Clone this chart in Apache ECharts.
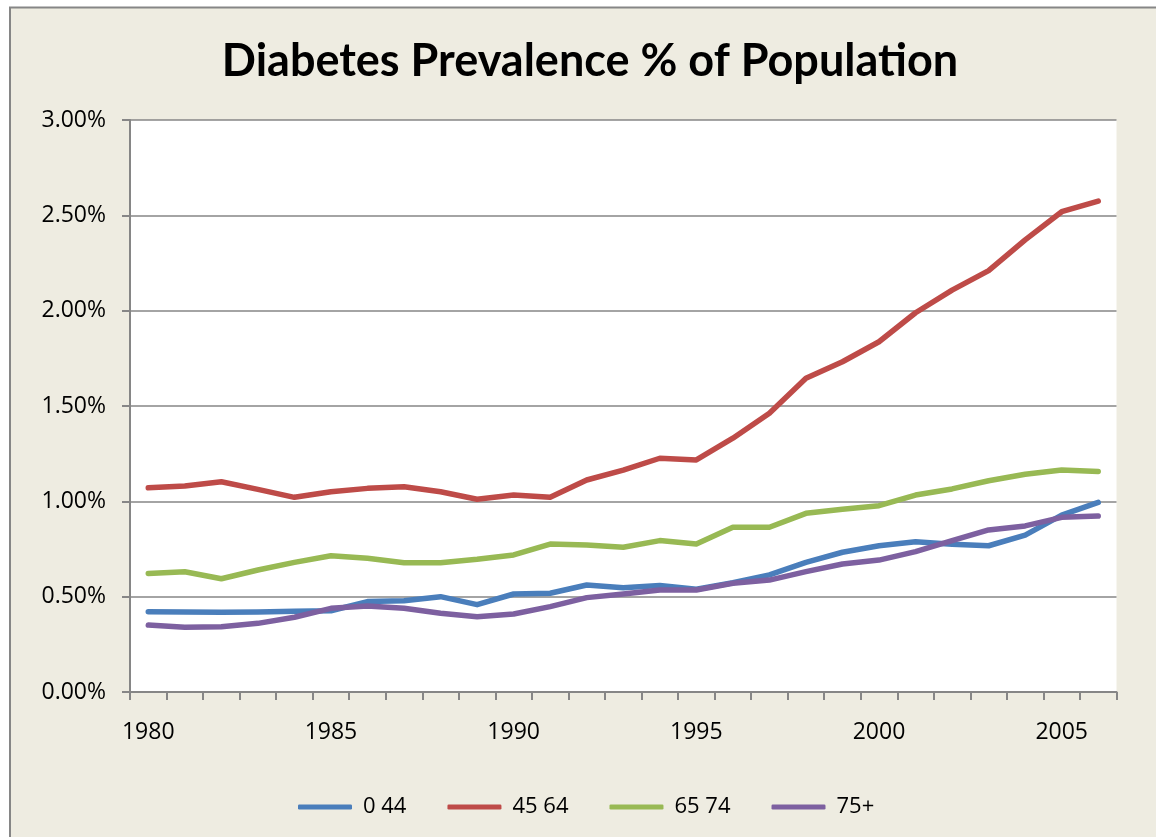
<!DOCTYPE html>
<html>
<head>
<meta charset="utf-8">
<script src="https://cdn.jsdelivr.net/npm/echarts@6/dist/echarts.min.js"></script>
<style>
html,body{margin:0;padding:0;background:#fff;}
#chart{width:1156px;height:837px;}
</style>
</head>
<body>
<div id="chart"></div>
<script>
var years = ['1980','1981','1982','1983','1984','1985','1986','1987','1988','1989','1990','1991','1992','1993','1994','1995','1996','1997','1998','1999','2000','2001','2002','2003','2004','2005','2006'];
var age0_44 = [0.421,0.419,0.418,0.420,0.424,0.426,0.474,0.479,0.500,0.458,0.514,0.518,0.561,0.547,0.558,0.539,0.573,0.614,0.680,0.733,0.767,0.788,0.775,0.767,0.823,0.928,0.995];
var age45_64 = [1.071,1.080,1.103,1.063,1.021,1.050,1.068,1.077,1.050,1.011,1.033,1.021,1.112,1.164,1.226,1.217,1.331,1.462,1.645,1.732,1.837,1.989,2.108,2.210,2.371,2.519,2.575];
var age65_74 = [0.622,0.631,0.594,0.640,0.680,0.715,0.701,0.678,0.678,0.696,0.719,0.776,0.771,0.759,0.794,0.776,0.864,0.864,0.937,0.958,0.977,1.033,1.065,1.108,1.142,1.164,1.157];
var age75 = [0.351,0.339,0.342,0.360,0.392,0.439,0.451,0.439,0.413,0.395,0.409,0.448,0.495,0.514,0.535,0.535,0.570,0.587,0.631,0.671,0.692,0.736,0.794,0.850,0.871,0.916,0.923];
var seriesNames = ['0 44','45 64','65 74','75+'];
var colors = ['#4A7EBB','#BE4B48','#98B954','#7D60A0'];

var chart = echarts.init(document.getElementById('chart'));
function mk(name, data, color){
  return {name:name, type:'line', data:data, showSymbol:false, symbol:'none',
    lineStyle:{width:5.5, color:color, cap:'round', join:'round'}, itemStyle:{color:color}};
}
var font = '"Open Sans", sans-serif';
chart.setOption({
  backgroundColor:'#EEECE1',
  animation:false,
  graphic:[
    {type:'rect', shape:{x:0,y:0,width:1156,height:7}, style:{fill:'#fff'}, silent:true},
    {type:'rect', shape:{x:0,y:0,width:10,height:837}, style:{fill:'#fff'}, silent:true},
    {type:'polyline', shape:{points:[[10,840],[10,7.5],[1160,7.5]]}, style:{stroke:'#868686', lineWidth:2, fill:null}, silent:true}
  ],
  title:{text:'Diabetes Prevalence % of Population', left:585, textAlign:'center', top:34,
    textStyle:{fontFamily:'Lato, sans-serif', fontWeight:'bold', fontSize:45, color:'#000'}},
  legend:{data:seriesNames, left:293, top:791, itemWidth:54, itemHeight:5, itemGap:41, icon:'roundRect',
    formatter:function(n){return '{t|'+n+'}';},
    textStyle:{fontFamily:font, fontSize:22, color:'#000',
      rich:{t:{fontFamily:font, fontSize:22, color:'#000', padding:[0,0,0,6]}}}},
  grid:{left:130, right:39.5, top:120, bottom:145, show:true, backgroundColor:'#fff', borderWidth:0},
  xAxis:{type:'category', data:years, boundaryGap:true,
    axisLine:{lineStyle:{color:'#868686', width:2}},
    axisTick:{show:true, interval:0, length:8, lineStyle:{color:'#868686', width:2}},
    axisLabel:{interval:4, margin:29, fontFamily:font, fontSize:23, color:'#000'},
    splitLine:{show:false}},
  yAxis:{type:'value', min:0, max:3, interval:0.5,
    axisLine:{show:true, lineStyle:{color:'#868686', width:2}},
    axisTick:{show:true, length:8, lineStyle:{color:'#868686', width:2}},
    axisLabel:{margin:24, fontFamily:font, fontSize:23, color:'#000', formatter:function(v){return v.toFixed(2)+'%';}},
    splitLine:{show:true, lineStyle:{color:'#868686', width:1.5}}},
  series:[mk(seriesNames[0],age0_44,colors[0]), mk(seriesNames[1],age45_64,colors[1]), mk(seriesNames[2],age65_74,colors[2]), mk(seriesNames[3],age75,colors[3])]
});
</script>
</body>
</html>
